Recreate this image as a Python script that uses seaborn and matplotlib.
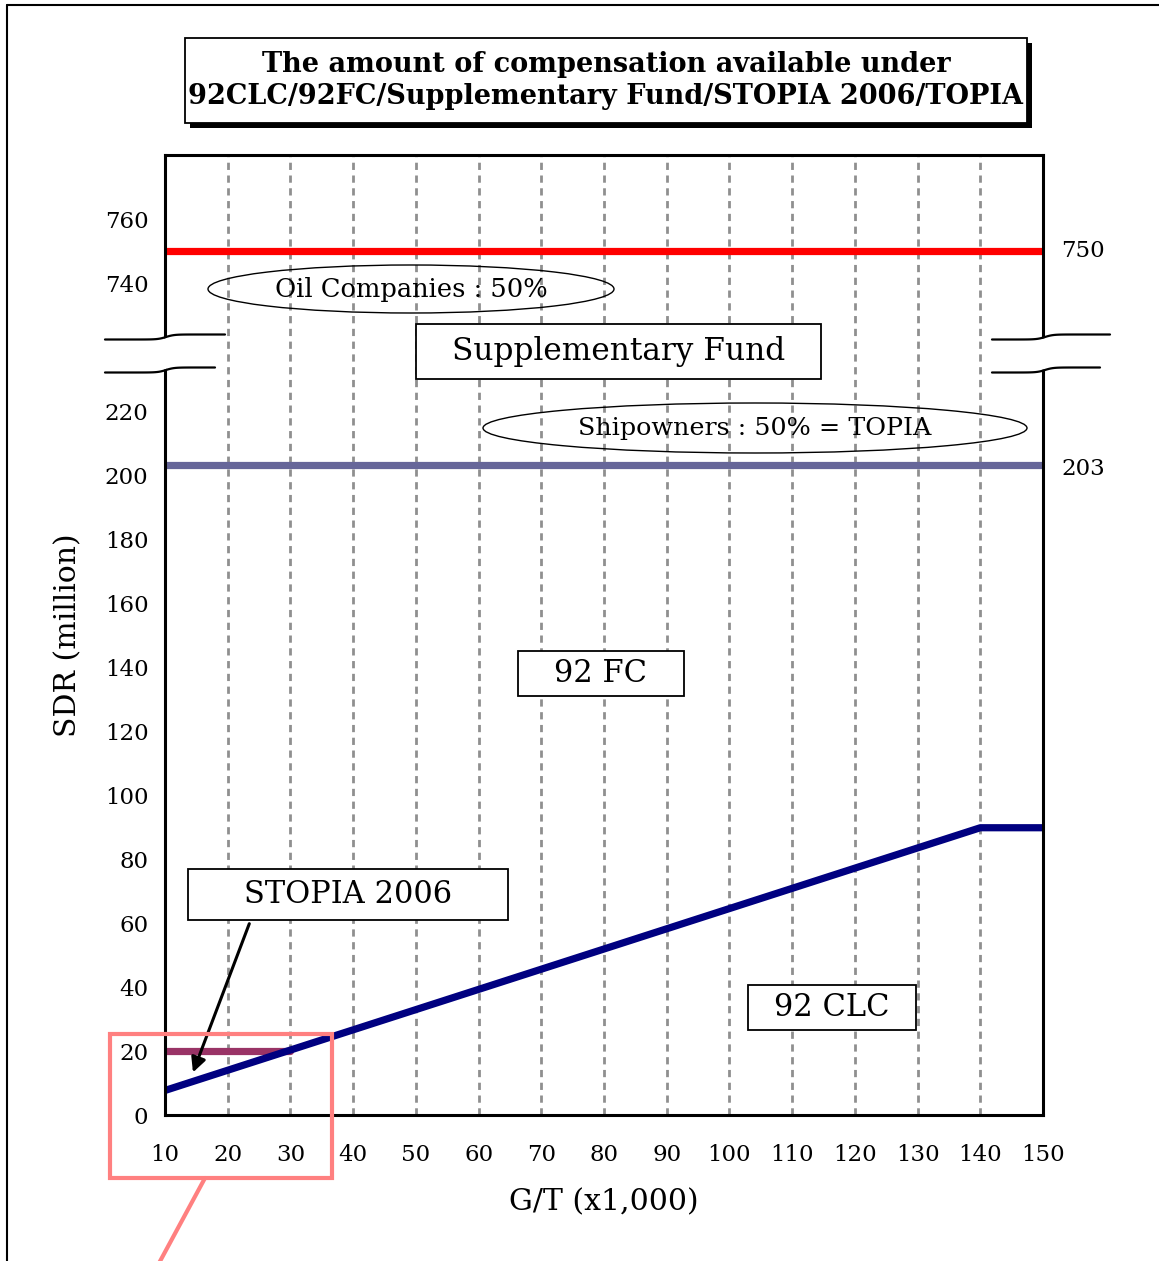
import numpy as np
import pandas as pd
import matplotlib
matplotlib.use("Agg")
import matplotlib.pyplot as plt
from matplotlib.patches import Rectangle, Ellipse, Polygon
from matplotlib.lines import Line2D
import seaborn as sns

# data (G/T in thousands, SDR in millions)
gt_ticks = [10, 20, 30, 40, 50, 60, 70, 80, 90, 100, 110, 120, 130, 140, 150]
clc_gt = [10, 140, 150]
clc_sdr = [7.67, 89.77, 89.77]
stopia_gt = [10, 30]
stopia_sdr = [20, 20]
fc_gt = [10, 150]
fc_sdr = [203, 203]
supp_gt = [10, 150]
supp_sdr = [750, 750]
low_ticks = [0, 20, 40, 60, 80, 100, 120, 140, 160, 180, 200, 220]
high_ticks = [740, 760]

# values above the axis break are shifted down by this amount
BREAK_SHIFT = 480


def to_axis(v):
    v = np.asarray(v, dtype=float)
    return np.where(v >= 700, v - BREAK_SHIFT, v)


sns.set_theme(style="white")
plt.rcParams["font.family"] = ["DejaVu Serif"]
plt.rcParams["text.color"] = "black"
plt.rcParams["axes.labelcolor"] = "black"
plt.rcParams["xtick.color"] = "black"
plt.rcParams["ytick.color"] = "black"

W, H = 1159, 1261
fig = plt.figure(figsize=(W / 100, H / 100), dpi=100)
ax = fig.add_axes([165 / W, 1 - 1115 / H, (1043 - 165) / W, (1115 - 155) / H])


def fx(px):
    return px / W


def fy(py):
    return 1 - py / H


# grid lines
for g in gt_ticks[1:]:
    ax.axvline(g, color="#8f8f8f", lw=2.0, ls=(0, (2.6, 2.0)), zorder=1)

lines = pd.DataFrame({
    "gt": clc_gt + stopia_gt + fc_gt + supp_gt,
    "sdr": list(to_axis(clc_sdr)) + list(to_axis(stopia_sdr)) + list(to_axis(fc_sdr)) + list(to_axis(supp_sdr)),
    "series": ["92 CLC"] * 3 + ["STOPIA"] * 2 + ["92 FC"] * 2 + ["Supp"] * 2,
})
pal = {"92 CLC": "#000080", "STOPIA": "#993366", "92 FC": "#666699", "Supp": "#ff0000"}
sns.lineplot(data=lines, x="gt", y="sdr", hue="series", palette=pal, sort=False,
             estimator=None, lw=5.2, legend=False, ax=ax, zorder=4,
             solid_capstyle="round", solid_joinstyle="round")
# the navy line sits on top of the purple one
for ln in ax.get_lines():
    if matplotlib.colors.to_hex(ln.get_color()) == "#000080":
        ln.set_zorder(5)

ax.set_xlim(10, 150)
ax.set_ylim(0, 300)
ax.set_xticks(gt_ticks)
ax.set_xticklabels([str(t) for t in gt_ticks])
ax.set_yticks(list(low_ticks) + list(to_axis(high_ticks)))
ax.set_yticklabels([str(t) for t in low_ticks + high_ticks])
ax.tick_params(axis="both", direction="in", length=6, width=1.2, color="black",
               labelsize=16.5, pad=14)
ax.tick_params(axis="x", pad=21)
ax.tick_params(axis="y", pad=12)
for s in ax.spines.values():
    s.set_color("black")
    s.set_linewidth(2.2)
    s.set_zorder(6)

ax.set_xlabel("G/T (x1,000)", fontsize=21.5, labelpad=16)
ax.set_ylabel("SDR (million)", fontsize=21.5, labelpad=16)

# right-hand labels
ax.text(1.021, to_axis(750), "750", transform=ax.get_yaxis_transform(),
        fontsize=16.5, va="center", ha="left")
ax.text(1.021, 202, "203", transform=ax.get_yaxis_transform(),
        fontsize=16.5, va="center", ha="left")


# axis break (white band with wavy edges)
def wave(x0, x1, y, mid):
    xs = np.linspace(x0, x1, 60)
    ys = y - 2.5 * np.tanh((xs - mid) / 8.0)
    return xs, ys


for x0, x1, mid in [(105, 225, 166), (992, 1110, 1045)]:
    xs_t, ys_t = wave(x0, x1, 337, mid)
    xs_b, ys_b = wave(x0, x1 - 10, 370, mid)
    band = np.concatenate([np.column_stack([xs_t, ys_t + 1]),
                           np.column_stack([xs_b[::-1], ys_b[::-1] - 1])])
    band = np.column_stack([fx(band[:, 0]), fy(band[:, 1])])
    fig.add_artist(Polygon(band, closed=True, facecolor="white", edgecolor="none",
                           zorder=10))
    fig.add_artist(Line2D(fx(xs_t), fy(ys_t), color="black", lw=1.6, zorder=11))
    fig.add_artist(Line2D(fx(xs_b), fy(ys_b), color="black", lw=1.6, zorder=11))

# ellipses
fig.add_artist(Ellipse((fx(411), fy(289)), 406 / W, 48 / H, facecolor="none",
                       edgecolor="black", lw=1.0, zorder=7))
fig.text(fx(411), fy(290), "Oil Companies : 50%", fontsize=18.5, ha="center",
         va="center", zorder=8)
fig.add_artist(Ellipse((fx(755), fy(428)), 544 / W, 50 / H, facecolor="none",
                       edgecolor="black", lw=1.0, zorder=7))
fig.text(fx(755), fy(428), "Shipowners : 50% = TOPIA", fontsize=18.3, ha="center",
         va="center", zorder=8)


# boxed labels
def box(x0, y0, x1, y1, text, size, bold=False, shadow=0):
    if shadow:
        fig.add_artist(Rectangle((fx(x0 + shadow), fy(y1 + shadow)), (x1 - x0) / W,
                                 (y1 - y0) / H, facecolor="black", edgecolor="none",
                                 zorder=8))
    fig.add_artist(Rectangle((fx(x0), fy(y1)), (x1 - x0) / W, (y1 - y0) / H,
                             facecolor="white", edgecolor="black", lw=1.3, zorder=9))
    fig.text(fx((x0 + x1) / 2), fy((y0 + y1) / 2), text, fontsize=size,
             ha="center", va="center", weight="bold" if bold else "normal",
             zorder=12, linespacing=1.2)


box(185, 38, 1027, 123,
    "The amount of compensation available under\n92CLC/92FC/Supplementary Fund/STOPIA 2006/TOPIA",
    19.5, bold=True, shadow=5)
box(416, 324, 821, 379, "Supplementary Fund", 22.5)
box(518, 651, 684, 696, "92 FC", 22)
box(748, 985, 916, 1030, "92 CLC", 22)
box(188, 869, 508, 920, "STOPIA 2006", 22)

# arrow from STOPIA box to its line
ax.annotate("", xy=(14.3, 12.5), xytext=(23.6, 60.6),
            arrowprops=dict(arrowstyle="-|>", color="black", lw=2.2,
                            mutation_scale=22), zorder=9)

# highlight rectangle and pointer
fig.add_artist(Rectangle((fx(110), fy(1178)), 222 / W, 144 / H, facecolor="none",
                         edgecolor="#ff8080", lw=3, zorder=12))
fig.add_artist(Line2D([fx(205), fx(158)], [fy(1178), fy(1265)], color="#ff8080",
                      lw=3, zorder=12))

# page border (top and left)
fig.add_artist(Line2D([fx(7), fx(7)], [fy(5), fy(1265)], color="black", lw=1.5))
fig.add_artist(Line2D([fx(7), fx(1165)], [fy(5), fy(5)], color="black", lw=1.5))

fig.savefig("out.png", dpi=100)
